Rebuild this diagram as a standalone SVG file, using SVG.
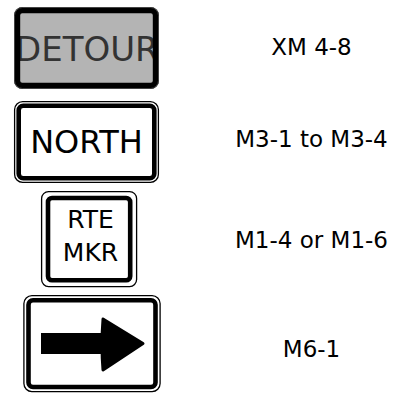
<svg xmlns="http://www.w3.org/2000/svg" width="399" height="398" viewBox="0 0 399 398">
<defs>
<style>
.rim{fill:none;stroke:#000;stroke-width:1.3}
.band{fill:#fff;stroke:#000;stroke-width:4.6}
.sign{font-family:"DejaVu Sans","Verdana",sans-serif;fill:#000}
.label{font-family:"DejaVu Sans","Verdana",sans-serif;font-size:23px;fill:#000;text-anchor:middle}
</style>
<clipPath id="detClip"><rect x="14" y="7" width="145" height="82" rx="8"/></clipPath>
</defs>
<rect width="399" height="398" fill="#fff"/>
<g id="detour">
<rect x="14" y="7" width="145" height="82" rx="8" fill="#b4b4b4"/>
<text class="sign" x="15" y="61" font-size="34" fill="#333" style="fill:#333" clip-path="url(#detClip)">DETOUR</text>
<rect x="17.2" y="10.2" width="138.6" height="75.6" rx="5" fill="none" stroke="#000" stroke-width="6"/>
<rect x="14.5" y="7.5" width="144" height="81" rx="8" fill="none" stroke="#444" stroke-width="1"/>
</g>
<g id="north">
<rect class="rim" x="14.6" y="101.6" width="143.8" height="80.8" rx="8"/>
<rect class="band" x="18.7" y="105.7" width="135.6" height="72.6" rx="4.5"/>
<text class="sign" x="86.5" y="153" font-size="32" text-anchor="middle">NORTH</text>
</g>
<g id="rtemkr">
<rect class="rim" x="41.6" y="191.6" width="95" height="95" rx="7"/>
<rect class="band" x="48" y="198" width="82.2" height="82.2" rx="4"/>
<text class="sign" x="90.5" y="228" font-size="25" text-anchor="middle">RTE</text>
<text class="sign" x="90.5" y="261" font-size="25" text-anchor="middle">MKR</text>
</g>
<g id="arrow">
<rect class="rim" x="23.9" y="295.6" width="136.2" height="96" rx="8"/>
<rect class="band" x="28.5" y="300.2" width="127" height="86.8" rx="4.5"/>
<path d="M41 333 H104 V354 H41 Z" fill="#000"/>
<path d="M103 319 L143 343.5 L103 370 Q101 345 103 319 Z" fill="#000" stroke="#000" stroke-width="3" stroke-linejoin="round"/>
</g>
<g id="labels">
<text class="label" x="311.5" y="55">XM 4-8</text>
<text class="label" x="311.5" y="147">M3-1 to M3-4</text>
<text class="label" x="311.5" y="248">M1-4 or M1-6</text>
<text class="label" x="311.5" y="357">M6-1</text>
</g>
<g id="connectors"/>
</svg>
